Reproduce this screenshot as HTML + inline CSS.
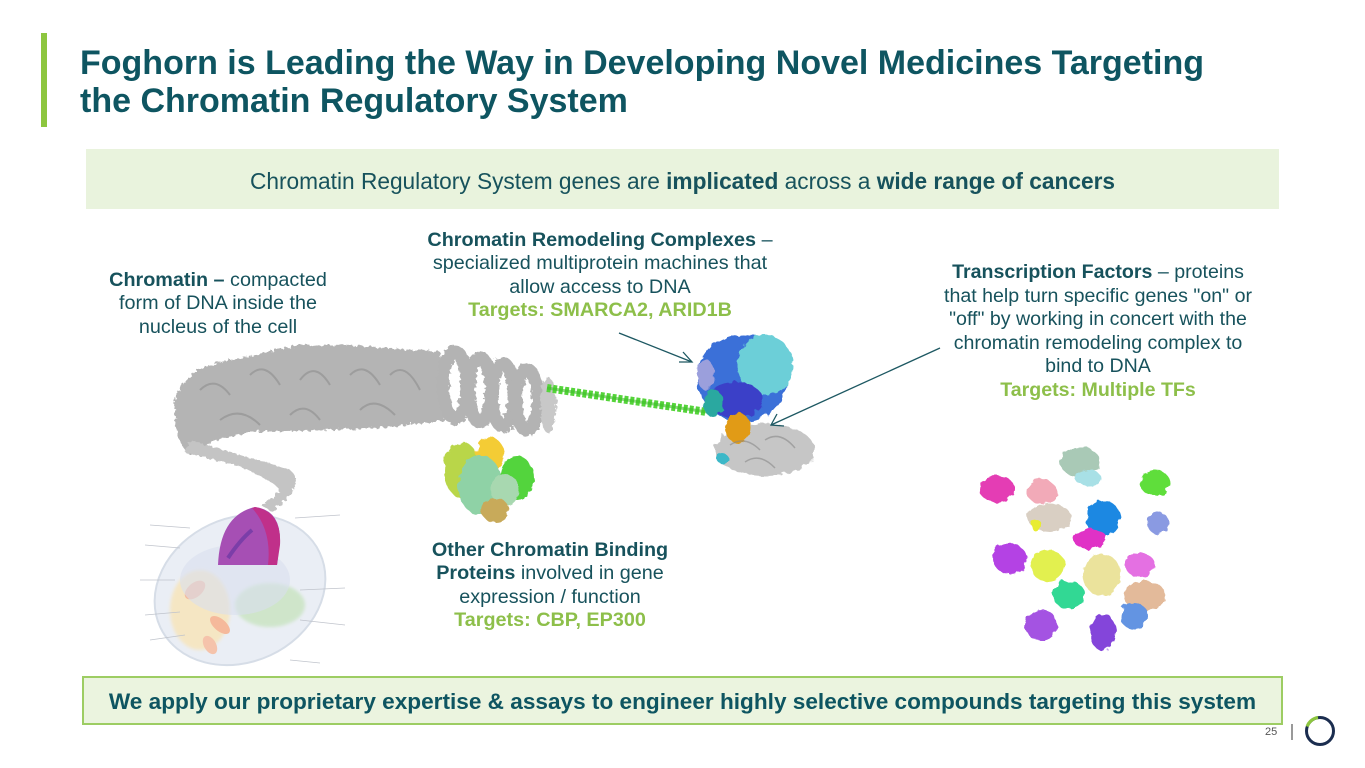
<!DOCTYPE html>
<html><head><meta charset="utf-8">
<style>
html,body{margin:0;padding:0;background:#fff;}
body{width:1365px;height:768px;position:relative;overflow:hidden;font-family:"Liberation Sans",Arial,sans-serif;}
.abs{position:absolute;}
.bar{left:41px;top:33px;width:6px;height:94px;background:#8dc63f;}
.title{left:80px;top:44px;font-size:34px;font-weight:bold;color:#0e5561;line-height:38px;white-space:nowrap;}
.banner{left:86px;top:149px;width:1193px;height:60px;background:#e9f3dd;}
.banner div{position:absolute;left:0;right:0;top:0;line-height:64px;text-align:center;font-size:22.7px;color:#17525c;white-space:nowrap;}
.t{color:#17525c;font-size:19.8px;line-height:23.3px;text-align:center;white-space:nowrap;}
.g{color:#8dbf4a;font-weight:bold;}
.bottom{left:82px;top:676px;width:1197px;height:45px;border:2px solid #9dcd63;background:#ebf4df;}
.bottom div{position:absolute;left:0;right:0;top:0;line-height:47px;text-align:center;font-size:22.6px;font-weight:bold;color:#0e5561;white-space:nowrap;}
.pn{left:1265px;top:726px;font-size:11px;color:#555;}
</style></head><body>
<div class="abs bar"></div>
<div class="abs title">Foghorn is Leading the Way in Developing Novel Medicines Targeting<br>the Chromatin Regulatory System</div>
<div class="abs banner"><div>Chromatin Regulatory System genes are <b>implicated</b> across a <b>wide range of cancers</b></div></div>

<svg class="abs" style="left:0;top:0" width="1365" height="768" viewBox="0 0 1365 768">
<defs>
<filter id="blob" x="-30%" y="-30%" width="160%" height="160%">
<feTurbulence type="fractalNoise" baseFrequency="0.12" numOctaves="2" seed="3" result="n"/>
<feDisplacementMap in="SourceGraphic" in2="n" scale="7"/>
</filter>
<filter id="tex" x="-10%" y="-10%" width="120%" height="120%">
<feTurbulence type="fractalNoise" baseFrequency="0.25" numOctaves="2" seed="7" result="n"/>
<feDisplacementMap in="SourceGraphic" in2="n" scale="6"/>
</filter>
<filter id="soft"><feGaussianBlur stdDeviation="1.5"/></filter>
</defs>

<!-- cell -->
<g opacity="0.75">
<ellipse cx="240" cy="590" rx="88" ry="72" transform="rotate(-25 240 590)" fill="#e4e9f2" stroke="#c9d2df" stroke-width="2"/>
<ellipse cx="200" cy="610" rx="30" ry="40" fill="#f6dca0" opacity="0.8" filter="url(#soft)"/>
<ellipse cx="270" cy="605" rx="35" ry="22" fill="#b9dcb0" opacity="0.85" filter="url(#soft)"/>
<ellipse cx="195" cy="590" rx="12" ry="7" transform="rotate(-40 195 590)" fill="#f2a27a"/>
<ellipse cx="220" cy="625" rx="12" ry="6" transform="rotate(40 220 625)" fill="#f2a27a"/>
<ellipse cx="210" cy="645" rx="10" ry="6" transform="rotate(60 210 645)" fill="#f2b090"/>
<ellipse cx="235" cy="580" rx="55" ry="35" fill="#cdd6ea" opacity="0.6"/>
</g>
<path d="M218,565 Q220,515 255,507 Q280,510 280,540 L277,565 Z" fill="#a64fb4"/>
<path d="M255,507 Q282,512 280,545 L277,565 L268,565 Q272,530 252,508 Z" fill="#c0308a"/>
<path d="M228,558 Q240,540 252,530" stroke="#7b3ea8" stroke-width="4" fill="none"/>
<g stroke="#c0c4cc" stroke-width="0.8">
<line x1="150" y1="525" x2="190" y2="528"/><line x1="145" y1="545" x2="180" y2="548"/>
<line x1="140" y1="580" x2="175" y2="580"/><line x1="145" y1="615" x2="180" y2="612"/>
<line x1="150" y1="640" x2="185" y2="635"/><line x1="295" y1="518" x2="340" y2="515"/>
<line x1="300" y1="590" x2="345" y2="588"/><line x1="300" y1="620" x2="345" y2="625"/>
<line x1="290" y1="660" x2="320" y2="663"/>
</g>

<!-- chromatin fiber -->
<g filter="url(#tex)">
<path d="M175,400 Q185,368 230,360 L300,345 L360,346 L440,352 L445,420 L380,428 L320,430 L250,432 L215,440 Q200,450 190,455 Q172,440 175,400 Z" fill="#b4b4b4"/>
<path d="M190,440 Q240,455 290,470 Q302,480 290,495 L272,512 L262,506 L280,490 Q270,478 235,465 Q205,458 185,452 Z" fill="#c4c4c4"/>
<g fill="none" stroke="#b3b3b3" stroke-width="13">
<ellipse cx="455" cy="385" rx="12" ry="33"/>
<ellipse cx="480" cy="390" rx="11" ry="32"/>
<ellipse cx="503" cy="395" rx="11" ry="31"/>
<ellipse cx="527" cy="400" rx="11" ry="30"/>
</g>
<ellipse cx="548" cy="405" rx="8" ry="28" fill="#c8c8c8"/>
</g>
<g stroke="#8e8e8e" stroke-width="2" opacity="0.6" fill="none">
<path d="M200,390 Q215,375 230,395"/><path d="M250,375 Q265,360 280,385"/>
<path d="M300,380 Q315,360 330,385"/><path d="M350,375 Q365,360 380,385"/>
<path d="M390,375 Q405,360 420,390"/><path d="M220,420 Q240,405 260,425"/>
<path d="M290,415 Q305,400 320,420"/><path d="M360,410 Q375,395 395,415"/>
</g>

<!-- green helix -->
<path d="M547,388 L707,412" stroke="#55d43a" stroke-width="8" stroke-dasharray="4 2"/>
<path d="M547,388 L707,412" stroke="#3fbf2a" stroke-width="3" opacity="0.6"/>

<!-- remodeling complex -->
<g filter="url(#blob)">
<ellipse cx="765" cy="450" rx="50" ry="26" fill="#c6c6c6"/>
<ellipse cx="742" cy="378" rx="45" ry="44" fill="#3a6fd8"/>
<ellipse cx="765" cy="365" rx="28" ry="30" fill="#6ccfd8"/>
<ellipse cx="735" cy="400" rx="28" ry="18" fill="#3b3fc8"/>
<ellipse cx="713" cy="403" rx="10" ry="14" fill="#2aa8a0"/>
<ellipse cx="706" cy="375" rx="9" ry="15" fill="#9b9fdc"/>
<ellipse cx="738" cy="428" rx="13" ry="15" fill="#e19b12"/>
<ellipse cx="722" cy="458" rx="6" ry="5" fill="#3cb8c8"/>
</g>
<g stroke="#8a8a8a" stroke-width="1.5" opacity="0.6" fill="none">
<path d="M730,445 Q745,435 760,450"/><path d="M765,440 Q780,430 795,448"/><path d="M745,462 Q760,452 775,468"/>
</g>

<!-- other chromatin binding proteins cluster -->
<g filter="url(#blob)">
<ellipse cx="462" cy="470" rx="18" ry="28" fill="#b9d64a"/>
<ellipse cx="490" cy="455" rx="14" ry="18" fill="#f4cc34"/>
<ellipse cx="517" cy="478" rx="17" ry="22" fill="#52d43c"/>
<ellipse cx="480" cy="485" rx="22" ry="30" fill="#8fd2a6"/>
<ellipse cx="505" cy="490" rx="14" ry="16" fill="#a8d8b0"/>
<ellipse cx="495" cy="510" rx="14" ry="12" fill="#c8aa5a"/>
</g>

<!-- transcription factors -->
<g filter="url(#blob)">
<ellipse cx="997" cy="489" rx="18" ry="13" fill="#e43cb4"/>
<ellipse cx="1042" cy="492" rx="15" ry="12" fill="#f2aab8"/>
<ellipse cx="1080" cy="462" rx="20" ry="15" fill="#a9c9b6"/>
<ellipse cx="1088" cy="478" rx="13" ry="8" fill="#a8e0e6"/>
<ellipse cx="1155" cy="483" rx="15" ry="13" fill="#5ede3a"/>
<ellipse cx="1050" cy="518" rx="22" ry="14" fill="#d9cfc3"/>
<ellipse cx="1036" cy="525" rx="5" ry="6" fill="#e8ec30"/>
<ellipse cx="1103" cy="518" rx="17" ry="18" fill="#1d88e2"/>
<ellipse cx="1158" cy="523" rx="11" ry="11" fill="#8a9ae2"/>
<ellipse cx="1090" cy="539" rx="17" ry="10" fill="#e032c6"/>
<ellipse cx="1010" cy="559" rx="17" ry="15" fill="#b442e4"/>
<ellipse cx="1048" cy="566" rx="17" ry="16" fill="#e2f050"/>
<ellipse cx="1102" cy="575" rx="19" ry="21" fill="#ebe39c"/>
<ellipse cx="1140" cy="565" rx="15" ry="12" fill="#e470e2"/>
<ellipse cx="1069" cy="595" rx="16" ry="14" fill="#30d894"/>
<ellipse cx="1145" cy="596" rx="21" ry="15" fill="#e3ba9a"/>
<ellipse cx="1134" cy="616" rx="14" ry="13" fill="#6494e2"/>
<ellipse cx="1041" cy="625" rx="16" ry="16" fill="#a452e2"/>
<ellipse cx="1103" cy="632" rx="13" ry="19" fill="#8444da"/>
</g>

<!-- arrows -->
<g stroke="#1d5862" stroke-width="1.3" fill="none">
<line x1="619" y1="333" x2="692" y2="362"/>
<polyline points="683,352 692,362 679,362"/>
<line x1="940" y1="348" x2="771" y2="425"/>
<polyline points="777,414 771,425 784,426"/>
</g>

<!-- logo -->
<line x1="1292" y1="724" x2="1292" y2="740" stroke="#555" stroke-width="1.2"/>
<circle cx="1320" cy="731" r="13.5" fill="none" stroke="#1b2d4f" stroke-width="3"/>
<path d="M1307.2,726.5 A13.5,13.5 0 0 1 1318,717.6" fill="none" stroke="#8dc63f" stroke-width="3.2"/>
</svg>

<div class="abs t" style="left:88px;top:269px;width:260px;"><b>Chromatin –</b> compacted<br>form of DNA inside the<br>nucleus of the cell</div>
<div class="abs t" style="left:400px;top:229px;width:400px;"><b>Chromatin Remodeling Complexes</b> –<br>specialized multiprotein machines that<br>allow access to DNA<br><span class="g">Targets: SMARCA2, ARID1B</span></div>
<div class="abs t" style="left:918px;top:261px;width:360px;font-size:19.6px;line-height:23.6px;"><b>Transcription Factors</b> – proteins<br>that help turn specific genes "on" or<br>"off" by working in concert with the<br>chromatin remodeling complex to<br>bind to DNA<br><span class="g">Targets: Multiple TFs</span></div>
<div class="abs t" style="left:400px;top:539px;width:300px;"><b>Other Chromatin Binding<br>Proteins</b> involved in gene<br>expression / function<br><span class="g">Targets: CBP, EP300</span></div>

<div class="abs bottom"><div>We apply our proprietary expertise &amp; assays to engineer highly selective compounds targeting this system</div></div>
<div class="abs pn">25</div>
</body></html>
